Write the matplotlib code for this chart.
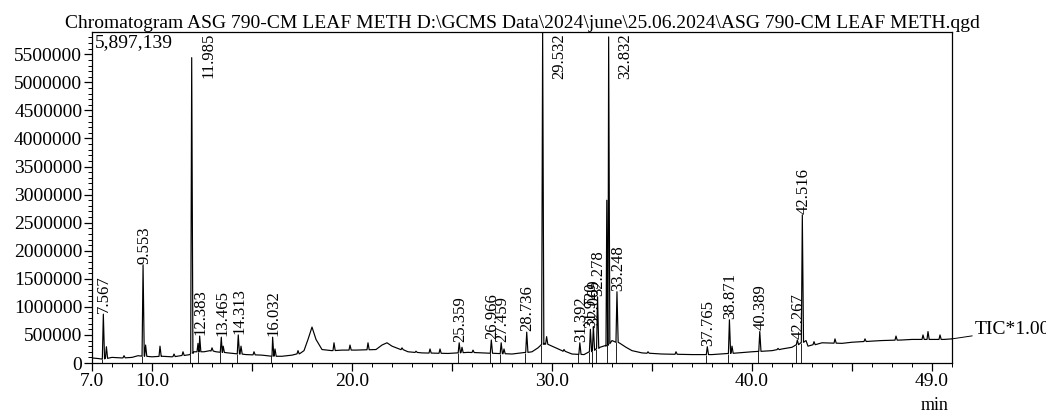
import numpy as np
import matplotlib
matplotlib.use("Agg")
import matplotlib.pyplot as plt
from matplotlib.ticker import MultipleLocator, FixedLocator, FixedFormatter

plt.rcParams['font.family'] = ['Liberation Serif', 'DejaVu Serif']

# labelled peaks: retention time (min), apex intensity
peak_rt = [7.567, 9.553, 11.985, 12.383, 13.465, 14.313, 16.032, 25.359,
           26.966, 27.459, 28.736, 29.532, 31.392, 31.920, 32.069, 32.278,
           32.832, 33.248, 37.765, 38.871, 40.389, 42.267, 42.516]
peak_height = [870000, 1750000, 5440000, 480000, 460000, 500000, 460000, 360000,
               410000, 360000, 550000, 5897139, 360000, 600000, 650000, 1180000,
               5810000, 1270000, 290000, 770000, 560000, 410000, 2640000]
peak_label = ["7.567", "9.553", "11.985", "12.383", "13.465", "14.313", "16.032",
              "25.359", "26.966", "27.459", "28.736", "29.532", "31.392",
              "31.920", "32.069", "32.278", "32.832", "33.248", "37.765",
              "38.871", "40.389", "42.267", "42.516"]

# small unlabelled spikes
minor_rt = [7.72, 8.6, 9.68, 10.4, 11.1, 11.55, 12.30, 13.0, 13.56, 14.45,
            15.1, 16.15, 17.3, 19.1, 19.9, 20.8, 22.5, 23.2, 23.9, 24.4,
            25.5, 26.05, 27.6, 29.73, 30.6, 32.74, 34.8, 36.2, 39.0, 41.3,
            43.1, 44.15, 45.65, 47.2, 48.55, 48.8, 49.4]
minor_height = [290000, 130000, 320000, 300000, 160000, 200000, 350000, 270000,
                300000, 300000, 200000, 250000, 220000, 360000, 320000, 360000,
                270000, 210000, 250000, 250000, 280000, 230000, 250000, 470000,
                240000, 2900000, 200000, 200000, 300000, 260000, 380000, 430000,
                430000, 480000, 500000, 560000, 500000]

# baseline (drift + broad humps)
base_t = [7.0, 7.3, 7.5, 8.0, 8.5, 9.0, 9.3, 10.0, 10.5, 11.0, 11.9, 12.1,
          12.6, 12.9, 13.2, 13.8, 14.7, 15.5, 16.0, 16.5, 17.0, 17.4, 17.6,
          17.8, 18.0, 18.2, 18.5, 19.0, 19.5, 20.2, 21.2, 21.5, 21.75, 22.0,
          22.8, 23.5, 24.8, 25.8, 26.5, 28.0, 29.0, 29.3, 29.6, 30.0, 30.5,
          31.0, 31.6, 32.4, 32.7, 33.0, 33.4, 33.7, 34.0, 34.5, 35.5, 37.0,
          38.0, 39.3, 40.0, 41.0, 41.5, 42.0, 42.7, 42.8, 43.5, 44.5, 45.0,
          46.0, 46.5, 47.5, 48.0, 49.0, 49.6, 50.0]
base_y = [90000, 80000, 70000, 100000, 90000, 100000, 130000, 110000, 120000,
          110000, 150000, 200000, 200000, 220000, 200000, 180000, 150000, 140000,
          120000, 120000, 140000, 170000, 220000, 420000, 640000, 420000, 240000,
          220000, 230000, 230000, 240000, 320000, 360000, 300000, 200000, 180000,
          170000, 190000, 180000, 160000, 200000, 270000, 350000, 300000, 220000,
          160000, 150000, 280000, 300000, 400000, 350000, 280000, 220000, 180000,
          160000, 150000, 150000, 180000, 200000, 220000, 250000, 280000, 400000,
          300000, 360000, 350000, 370000, 390000, 400000, 410000, 420000, 420000,
          420000, 430000]

ymax = 5897139

# build trace: baseline knots plus a narrow spike per peak
base_t = np.array(base_t, dtype=float)
base_y = np.array(base_y, dtype=float)
tt = list(base_t)
yy = list(base_y)
for rt, h in zip(peak_rt + minor_rt, peak_height + minor_height):
    b = np.interp(rt, base_t, base_y)
    tt += [rt - 0.05, rt, rt + 0.06]
    yy += [b, h, b]
order = np.argsort(tt)
tt = np.array(tt)[order]
yy = np.array(yy)[order]

fig = plt.figure(figsize=(10.46, 4.12), dpi=100)
ax = fig.add_axes([92 / 1046, 49 / 412, 860 / 1046, 331 / 412])
ax.plot(tt, yy, color="black", lw=0.85)

# integration start markers
for rt in peak_rt:
    b = np.interp(rt - 0.07, base_t, base_y)
    ax.vlines(rt - 0.07, 0, b, color="black", lw=0.6)

ax.set_xlim(7.0, 50.0)
ax.set_ylim(0, ymax)

# peak labels
for rt, h, lab in zip(peak_rt, peak_height, peak_label):
    if h > 4500000:
        ax.text(rt + 0.85, ymax * 0.997, lab, rotation=90, ha="center",
                va="top", fontsize=12)
    else:
        ax.text(rt + 0.05, h + 20000, lab, rotation=90, ha="center",
                va="bottom", fontsize=12)

ax.text(0.003, 0.995, "5,897,139", transform=ax.transAxes, ha="left",
        va="top", fontsize=14)

# ticks
ax.xaxis.set_major_locator(FixedLocator([7, 10, 15, 20, 25, 30, 35, 40, 45, 49]))
ax.xaxis.set_major_formatter(FixedFormatter(["7.0", "10.0", "", "20.0", "",
                                             "30.0", "", "40.0", "", "49.0"]))
ax.xaxis.set_minor_locator(MultipleLocator(1))
ax.yaxis.set_major_locator(MultipleLocator(500000))
ax.yaxis.set_minor_locator(MultipleLocator(100000))
ax.yaxis.set_major_formatter(matplotlib.ticker.FormatStrFormatter("%d"))
ax.tick_params(axis="both", which="major", direction="out", length=6,
               width=0.9, labelsize=14, pad=1)
ax.tick_params(axis="both", which="minor", direction="out", length=3, width=0.7)
for sp in ax.spines.values():
    sp.set_linewidth(0.9)

ax.set_title("Chromatogram ASG 790-CM LEAF METH D:\\GCMS Data\\2024\\june\\"
             "25.06.2024\\ASG 790-CM LEAF METH.qgd", fontsize=14, pad=2)

ax.annotate("TIC*1.00", xy=(50.0, 430000), xytext=(51.15, 590000),
            fontsize=14, va="center", ha="left", annotation_clip=False,
            arrowprops=dict(arrowstyle="-", color="black", lw=0.7,
                            shrinkA=0, shrinkB=0))

fig.text(935 / 1046, 7 / 412, "min", ha="center", va="center", fontsize=13)

fig.savefig("out.png", dpi=100)
